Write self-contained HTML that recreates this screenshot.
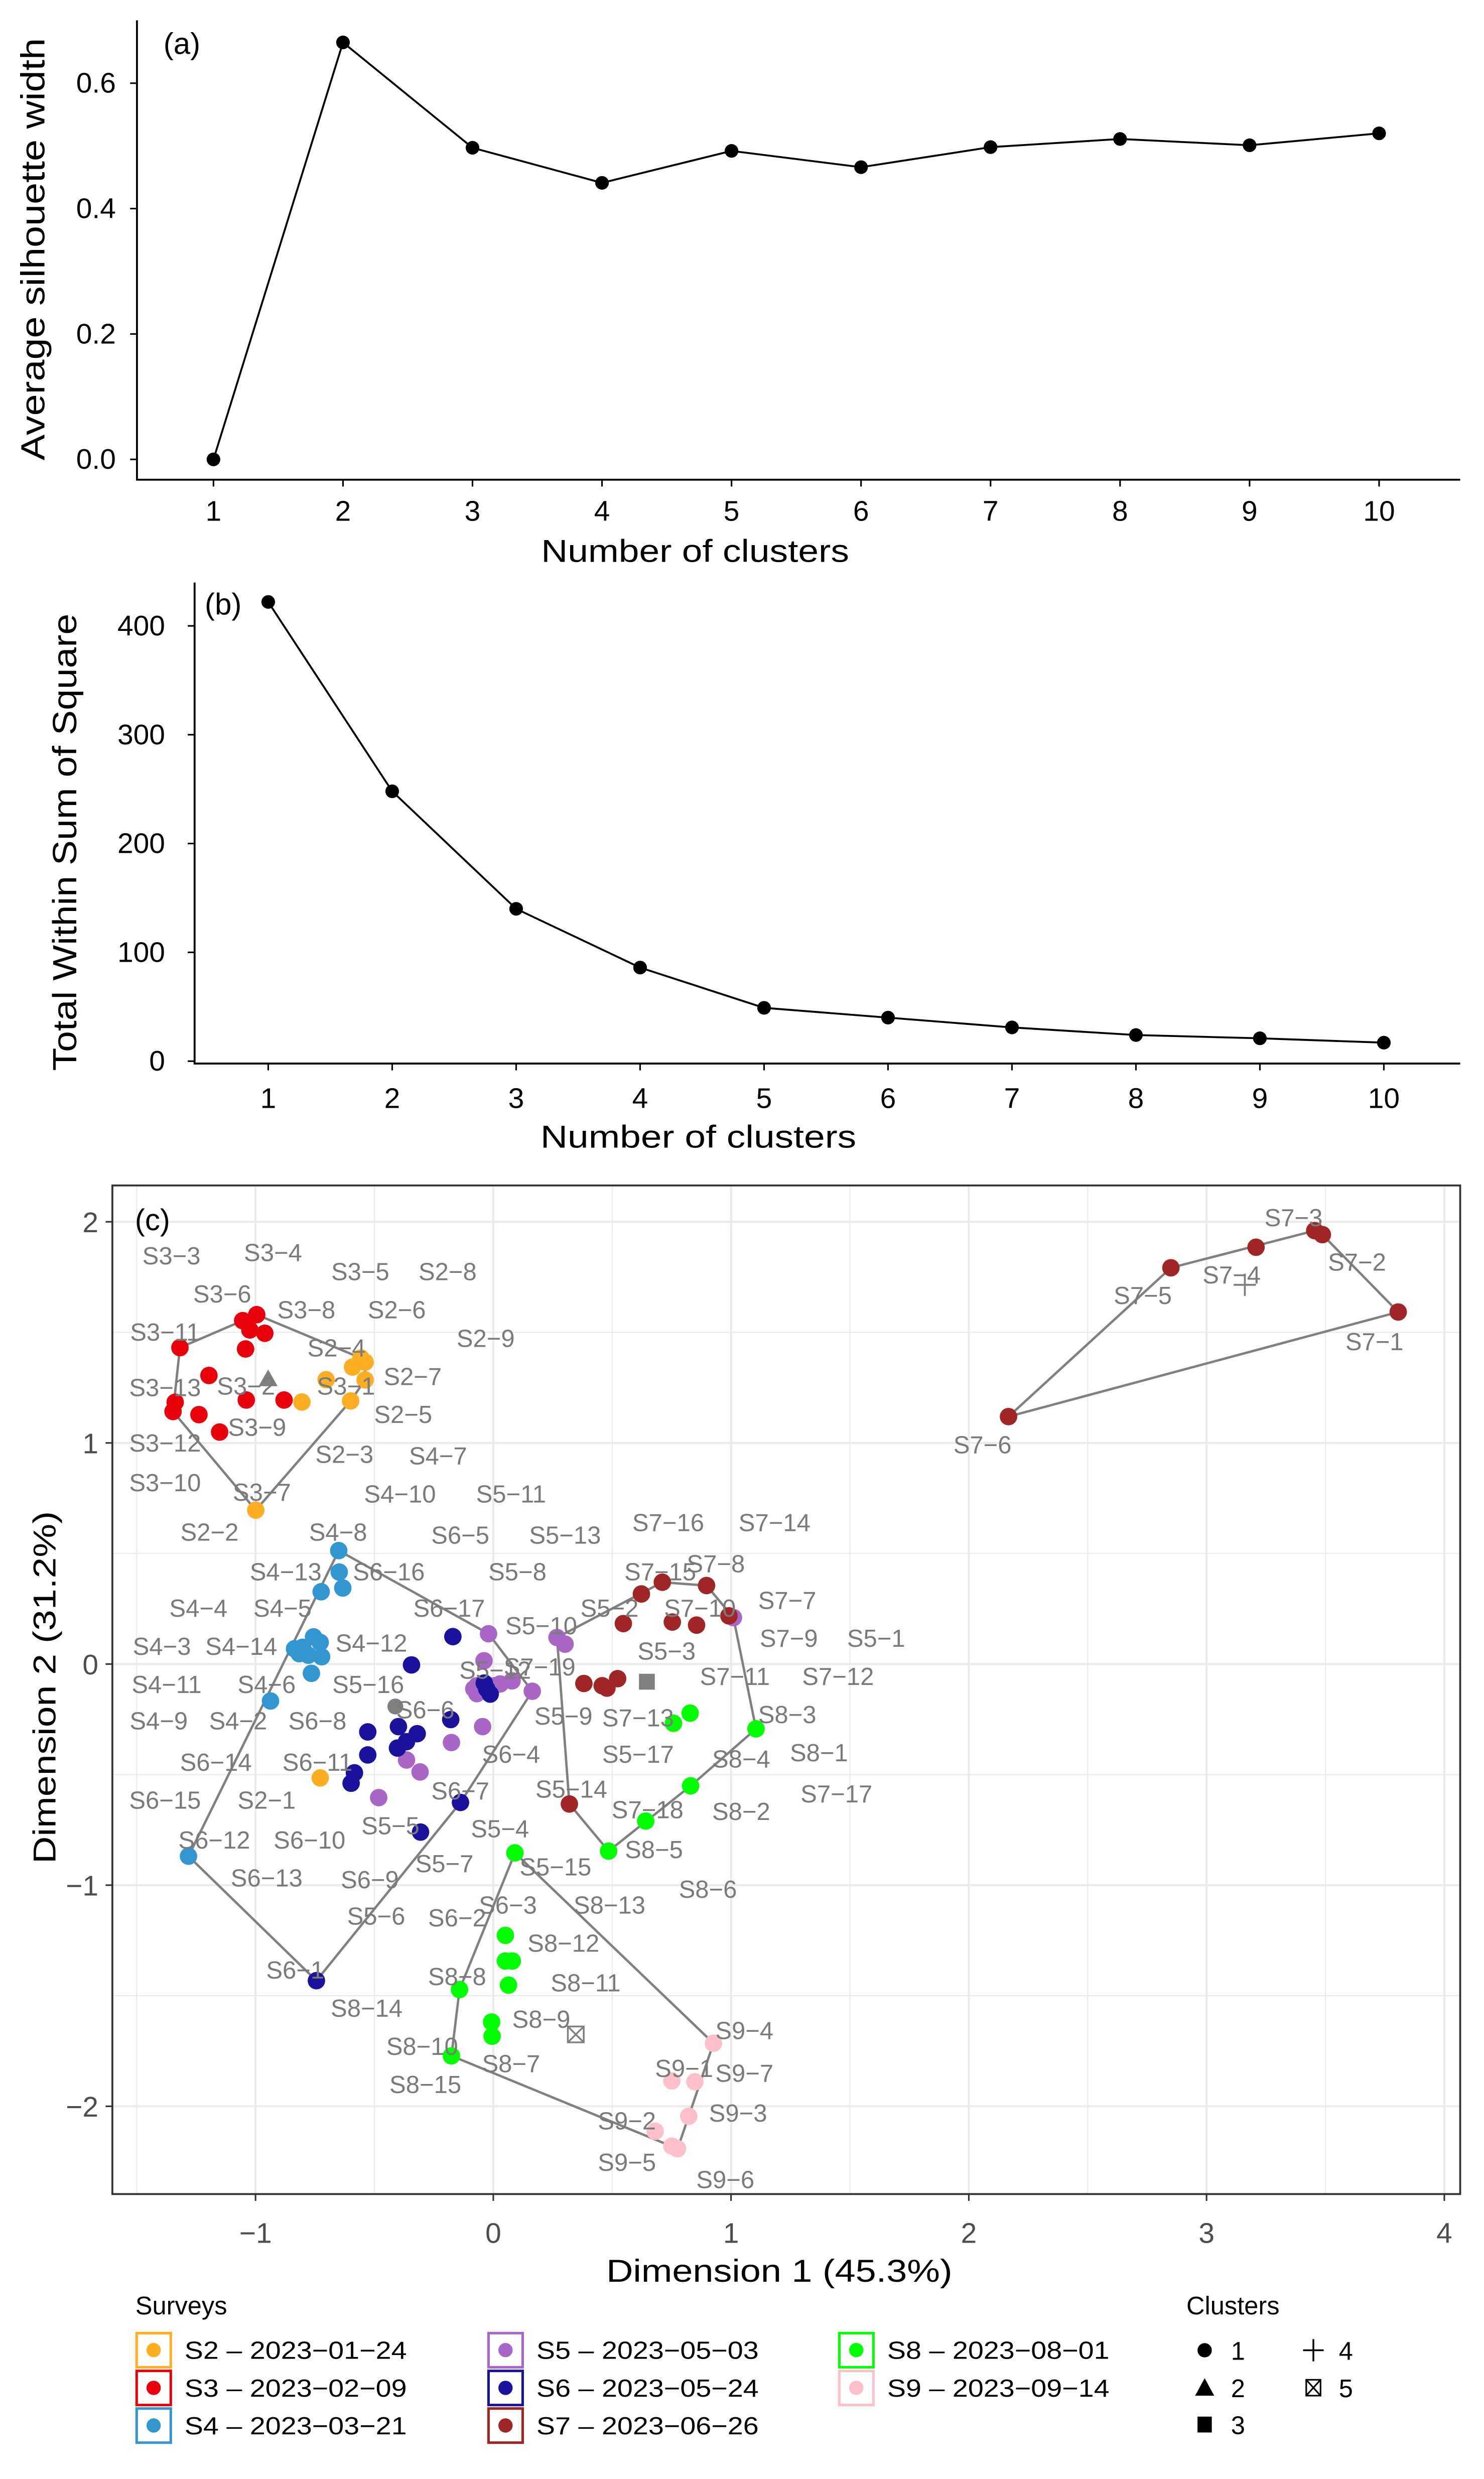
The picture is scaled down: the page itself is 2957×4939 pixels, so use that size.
<!DOCTYPE html>
<html><head><meta charset="utf-8">
<style>
html,body{margin:0;padding:0;background:#fff;}
svg{display:block;font-family:"Liberation Sans",sans-serif;}
</style></head>
<body>
<svg id="fig" xmlns="http://www.w3.org/2000/svg" width="2957" height="4939" viewBox="0 0 935 1561.7">
<rect x="0" y="0" width="935" height="1561.7" fill="#fff"/>
<g id="pa"></g>
<g id="pb"></g>
<g id="pc"></g>
<g id="lg"></g>
</svg>
<script>
// ---------- Panel (a) data ----------
const silK = [1,2,3,4,5,6,7,8,9,10];
const silVals = [0, 0.665, 0.497, 0.441, 0.492, 0.466, 0.498, 0.511, 0.501, 0.520];
const silTicks = [0, 0.2, 0.4, 0.6];
const silTickLabels = ["0.0","0.2","0.4","0.6"];
// ---------- Panel (b) data ----------
const wssK = [1,2,3,4,5,6,7,8,9,10];
const wssVals = [422, 248, 140, 86, 49, 40, 31, 24, 21, 17];
const wssTicks = [0,100,200,300,400];
// ---------- Panel (c) data ----------
const s2x = [-0.728,-0.999,-0.805,-0.703,-0.600,-0.592,-0.539,-0.557,-0.539];
const s2y = [-0.515,0.696,1.185,1.286,1.190,1.343,1.285,1.384,1.365];
const s2c = [1,2,2,2,2,2,2,2,2];
const s3x = [-0.995,-1.054,-1.024,-0.961,-1.318,-1.042,-1.196,-1.039,-0.880,-1.338,-1.347,-1.238,-1.151];
const s3y = [1.58,1.553,1.511,1.496,1.431,1.425,1.305,1.194,1.194,1.184,1.142,1.128,1.049];
const s3c = [2,2,2,2,2,2,2,2,2,2,2,2,2];
const s4x = [-0.650,-0.648,-0.633,-0.724,-0.756,-0.728,-0.836,-0.802,-0.778,-0.722,-0.765,-0.937,-1.282,-0.816];
const s4y = [0.513,0.416,0.344,0.327,0.123,0.098,0.069,0.076,0.040,0.033,-0.042,-0.167,-0.869,0.047];
const s4c = [1,1,1,1,1,1,1,1,1,1,1,1,1,1];
const s5x = [-0.020,-0.039,-0.069,-0.069,0.029,0.079,0.164,-0.045,-0.176,-0.365,-0.308,-0.482,0.268,0.302,1.010,0.005,-0.082];
const s5y = [0.137,0.015,-0.098,-0.134,-0.090,-0.076,-0.123,-0.283,-0.355,-0.434,-0.488,-0.604,0.120,0.090,0.210,-0.098,-0.112];
const s5c = [1,1,1,1,1,1,1,1,1,1,1,1,3,3,3,1,1];
const s6x = [-0.170,-0.344,-0.038,-0.013,-0.179,-0.399,-0.320,-0.365,-0.403,-0.528,-0.528,-0.584,-0.598,-0.306,-0.138,-0.744,-0.028];
const s6y = [0.124,-0.004,-0.086,-0.136,-0.251,-0.283,-0.315,-0.351,-0.380,-0.307,-0.411,-0.492,-0.539,-0.760,-0.626,-1.432,-0.112];
const s6c = [1,1,1,1,1,1,1,1,1,1,1,1,1,1,1,1,1];
const s7x = [3.806,3.487,3.455,3.208,2.850,2.167,0.711,0.623,0.897,0.991,0.547,0.753,0.855,0.381,0.458,0.478,0.523,0.320];
const s7y = [1.592,1.942,1.960,1.885,1.792,1.119,0.370,0.317,0.355,0.218,0.183,0.190,0.176,-0.088,-0.098,-0.109,-0.066,-0.633];
const s7c = [4,4,4,4,4,4,3,3,3,3,3,3,3,3,3,3,3,3];
const s8x = [0.828,0.758,1.105,0.830,0.641,0.485,0.091,0.051,0.051,0.080,0.064,-0.142,-0.007,-0.005,-0.176];
const s8y = [-0.222,-0.268,-0.293,-0.551,-0.710,-0.846,-0.854,-1.227,-1.343,-1.343,-1.452,-1.472,-1.619,-1.683,-1.772];
const s8c = [3,3,3,3,3,3,5,5,5,5,5,5,5,5,5];
const s9x = [0.926,0.751,0.848,0.822,0.681,0.751,0.775];
const s9y = [-1.715,-1.885,-1.889,-2.045,-2.113,-2.180,-2.192];
const s9c = [5,5,5,5,5,5,5];
const centX = [-0.412,-0.947,0.646,3.161,0.347];
const centY = [-0.192,1.289,-0.080,1.715,-1.675];
const cTicksX = [-1,0,1,2,3,4];
const cTicksY = [-2,-1,0,1,2];
const surveyNames = ["S2","S3","S4","S5","S6","S7","S8","S9"];
const surveyDates = ["2023−01−24","2023−02−09","2023−03−21","2023−05−03","2023−05−24","2023−06−26","2023−08−01","2023−09−14"];
const surveyColors = ["#fdae22","#e8000b","#3296d0","#a966c6","#1a129c","#a02525","#00ff00","#ffc0cb"];
// point labels: text, pixel x, pixel y (label anchor positions, not data)
const ptLabels = [
["S3−3",108,791],["S3−4",172,789],["S3−5",227,801],["S2−8",282,801],["S3−6",140,815],["S3−8",193,825],["S2−6",250,825],
["S3−11",104,839],["S2−9",306,843],["S2−4",212,849],["S2−7",260,867],["S3−13",104,874],["S3−2",155,873],["S3−1",218,873],
["S2−5",254,891],["S3−9",162,899],["S3−12",104,909],["S2−3",217,916],["S4−7",276,917],["S3−10",104,934],["S3−7",165,940],
["S4−10",252,941],["S5−11",322,941],["S2−2",132,965],["S4−8",213,965],["S6−5",290,967],["S5−13",356,967],["S7−16",421,959],
["S7−14",488,959],["S5−8",326,990],["S7−8",451,985],["S4−13",180,990],["S6−16",245,990],["S7−15",416,990],["S4−4",125,1013],
["S4−5",178,1013],["S6−17",283,1013],["S5−10",341,1024],["S5−2",384,1013],["S7−7",496,1008],["S7−10",441,1013],["S4−3",102,1037],
["S4−14",152,1037],["S4−12",234,1035],["S5−12",312,1052],["S7−19",340,1050],["S5−3",420,1040],["S7−9",497,1032],["S5−1",552,1032],
["S4−11",105,1061],["S4−6",168,1061],["S5−16",232,1061],["S7−11",463,1056],["S7−12",528,1056],["S4−9",100,1084],["S4−2",150,1084],
["S6−8",200,1084],["S6−6",268,1077],["S5−9",355,1081],["S7−13",402,1082],["S8−3",496,1080],["S6−14",136,1110],["S6−11",200,1110],
["S6−4",322,1105],["S5−17",402,1105],["S8−4",467,1108],["S8−1",516,1104],["S6−15",104,1134],["S2−1",168,1134],["S6−7",290,1128],
["S5−14",360,1127],["S7−17",527,1130],["S8−2",467,1141],["S6−12",135,1159],["S6−10",195,1159],["S5−5",246,1150],["S5−4",315,1152],
["S7−18",408,1140],["S8−5",412,1165],["S6−13",168,1183],["S6−9",233,1184],["S5−7",280,1174],["S5−15",350,1176],["S8−6",446,1190],
["S5−6",237,1207],["S6−2",288,1208],["S6−3",320,1200],["S8−13",384,1200],["S8−12",355,1224],["S6−1",186,1241],["S8−11",369,1249],
["S8−8",288,1245],["S8−14",231,1265],["S8−9",341,1272],["S9−4",469,1279],["S8−10",266,1289],["S9−1",431,1303],["S9−7",469,1306],
["S8−7",322,1300],["S8−15",268,1313],["S9−3",465,1331],["S9−2",395,1336],["S9−5",395,1362],["S9−6",457,1373],
["S7−3",815,767],["S7−2",855,795],["S7−4",776,803],["S7−5",720,816],["S7−1",866,845],["S7−6",619,910]
];

const NS = "http://www.w3.org/2000/svg";
function mk(parent, tag, attrs, text){
  const e = document.createElementNS(NS, tag);
  for (const k in attrs) e.setAttribute(k, attrs[k]);
  if (text !== undefined) e.textContent = text;
  parent.appendChild(e);
  return e;
}

// ================= Panel (a) =================
(function(){
  const g = document.getElementById('pa');
  const xA = k => 134.5 + (k-1)*81.6;
  const yA = v => 289.4 - v/0.2*79.0;
  let e;
  e = mk(g,'line',{x1:86.3,y1:12.8,x2:86.3,y2:302.2,stroke:'#000','stroke-width':1.2});
   
  e = mk(g,'line',{x1:85.7,y1:302.2,x2:920,y2:302.2,stroke:'#000','stroke-width':1.2});
   
  silTicks.forEach((t,i)=>{
    const y = yA(t);
    let l = mk(g,'line',{x1:82,y1:y,x2:86.3,y2:y,stroke:'#000','stroke-width':1});
     
    let tx = mk(g,'text',{x:73,y:y+6,'text-anchor':'end','font-size':18,fill:'#000'},silTickLabels[i]);
     
  });
  silK.forEach(k=>{
    const x = xA(k);
    let l = mk(g,'line',{x1:x,y1:302.2,x2:x,y2:306.5,stroke:'#000','stroke-width':1});
     
    let tx = mk(g,'text',{x:x,y:328,'text-anchor':'middle','font-size':18,fill:'#000'},String(k));
     
  });
  const pts = silK.map((k,i)=>xA(k)+','+yA(silVals[i])).join(' ');
  e = mk(g,'polyline',{points:pts,fill:'none',stroke:'#000','stroke-width':1.2});
   
  silK.forEach((k,i)=>{
    const c = mk(g,'circle',{cx:xA(k),cy:yA(silVals[i]),r:4.3,fill:'#000'});
     
  });
  e = mk(g,'text',{x:103,y:34,'font-size':19,fill:'#000'},'(a)');
   
  e = mk(g,'text',{x:438,y:354,'text-anchor':'middle','font-size':20,fill:'#000',textLength:194,lengthAdjust:'spacingAndGlyphs'},'Number of clusters');
   
  e = mk(g,'text',{x:0,y:0,'text-anchor':'middle','font-size':21,fill:'#000',transform:'translate(28,157) rotate(-90)',textLength:266,lengthAdjust:'spacingAndGlyphs'},'Average silhouette width');
   
})();

// ================= Panel (b) =================
(function(){
  const g = document.getElementById('pb');
  const xB = k => 169 + (k-1)*78.1;
  const yB = v => 668.5 - v*0.6855;
  let e;
  e = mk(g,'line',{x1:122.6,y1:367,x2:122.6,y2:670,stroke:'#000','stroke-width':1.2});
   
  e = mk(g,'line',{x1:122,y1:670,x2:920,y2:670,stroke:'#000','stroke-width':1.2});
   
  wssTicks.forEach(t=>{
    const y = yB(t);
    let l = mk(g,'line',{x1:118.3,y1:y,x2:122.6,y2:y,stroke:'#000','stroke-width':1});
     
    let tx = mk(g,'text',{x:104,y:y+6,'text-anchor':'end','font-size':18,fill:'#000'},String(t));
     
  });
  wssK.forEach(k=>{
    const x = xB(k);
    let l = mk(g,'line',{x1:x,y1:670,x2:x,y2:674.3,stroke:'#000','stroke-width':1});
     
    let tx = mk(g,'text',{x:x,y:698,'text-anchor':'middle','font-size':18,fill:'#000'},String(k));
     
  });
  const pts = wssK.map((k,i)=>xB(k)+','+yB(wssVals[i])).join(' ');
  e = mk(g,'polyline',{points:pts,fill:'none',stroke:'#000','stroke-width':1.2});
   
  wssK.forEach((k,i)=>{
    const c = mk(g,'circle',{cx:xB(k),cy:yB(wssVals[i]),r:4.3,fill:'#000'});
     
  });
  e = mk(g,'text',{x:129,y:387,'font-size':19,fill:'#000'},'(b)');
   
  e = mk(g,'text',{x:440,y:723,'text-anchor':'middle','font-size':20,fill:'#000',textLength:199,lengthAdjust:'spacingAndGlyphs'},'Number of clusters');
   
  e = mk(g,'text',{x:0,y:0,'text-anchor':'middle','font-size':21,fill:'#000',transform:'translate(48,530.6) rotate(-90)',textLength:288,lengthAdjust:'spacingAndGlyphs'},'Total Within Sum of Square');
   
})();

// ================= Panel (c) =================
(function(){
  const g = document.getElementById('pc');
  const xC = v => 310.8 + v*149.8;
  const yC = v => 1048.3 - v*139.3;
  const L=70.8, R=920, T=746.8, B=1382.2;
  let e;
  // grid
  for (let v=-1.5; v<=4.0; v+=0.5){
    const x = xC(v); if (x<L||x>R) continue;
    const major = Math.abs(v-Math.round(v))<1e-6;
    const l = mk(g,'line',{x1:x,y1:T,x2:x,y2:B,stroke:'#ebebeb','stroke-width':major?1.3:0.7});
     
  }
  for (let v=-2.5; v<=2.0; v+=0.5){
    const y = yC(v); if (y<T||y>B) continue;
    const major = Math.abs(v-Math.round(v))<1e-6;
    const l = mk(g,'line',{x1:L,y1:y,x2:R,y2:y,stroke:'#ebebeb','stroke-width':major?1.3:0.7});
     
  }
  // ticks
  cTicksX.forEach(t=>{
    const x=xC(t);
    let l=mk(g,'line',{x1:x,y1:B,x2:x,y2:B+4.3,stroke:'#333','stroke-width':1});
     
    let tx=mk(g,'text',{x:x,y:1413,'text-anchor':'middle','font-size':18,fill:'#4d4d4d'},String(t).replace('-','−'));
     
  });
  cTicksY.forEach(t=>{
    const y=yC(t);
    let l=mk(g,'line',{x1:L-4.3,y1:y,x2:L,y2:y,stroke:'#333','stroke-width':1});
     
    let tx=mk(g,'text',{x:62,y:y+6.5,'text-anchor':'end','font-size':18,fill:'#4d4d4d'},String(t).replace('-','−'));
     
  });
  // gather points
  const XS=[s2x,s3x,s4x,s5x,s6x,s7x,s8x,s9x], YS=[s2y,s3y,s4y,s5y,s6y,s7y,s8y,s9y], CS=[s2c,s3c,s4c,s5c,s6c,s7c,s8c,s9c];
  const byCluster = {1:[],2:[],3:[],4:[],5:[]};
  XS.forEach((xs,si)=>xs.forEach((x,i)=>byCluster[CS[si][i]].push([xC(x),yC(YS[si][i])])));
  function hull(p){
    p = p.slice().sort((a,b)=>a[0]-b[0]||a[1]-b[1]);
    const cr=(o,a,b)=>(a[0]-o[0])*(b[1]-o[1])-(a[1]-o[1])*(b[0]-o[0]);
    const lo=[],up=[];
    for(const q of p){while(lo.length>=2&&cr(lo[lo.length-2],lo[lo.length-1],q)<=0)lo.pop();lo.push(q);}
    for(let i=p.length-1;i>=0;i--){const q=p[i];while(up.length>=2&&cr(up[up.length-2],up[up.length-1],q)<=0)up.pop();up.push(q);}
    up.pop();lo.pop();return lo.concat(up);
  }
  for (const k in byCluster){
    const h = hull(byCluster[k]);
    const pg = mk(g,'polygon',{points:h.map(p=>p.join(',')).join(' '),fill:'none',stroke:'#808080','stroke-width':1.5,'stroke-linejoin':'round'});
     
  }
  // points
  XS.forEach((xs,si)=>xs.forEach((x,i)=>{
    const c = mk(g,'circle',{cx:xC(x),cy:yC(YS[si][i]),r:5.5,fill:surveyColors[si]});
     
  }));
  // centroids
  const gray='#7f7f7f';
  centX.forEach((cx,i)=>{
    const x=xC(cx), y=yC(centY[i]); let m;
    if(i===0){ m=mk(g,'circle',{cx:x,cy:y,r:5,fill:gray}); }
    else if(i===1){ m=mk(g,'polygon',{points:`${x},${y-6} ${x-6},${y+4.5} ${x+6},${y+4.5}`,fill:gray}); }
    else if(i===2){ m=mk(g,'rect',{x:x-5,y:y-5,width:10,height:10,fill:gray}); }
    else if(i===3){ m=mk(g,'path',{d:`M${x-7},${y}H${x+7}M${x},${y-7}V${y+7}`,stroke:gray,'stroke-width':1.2,fill:'none'}); }
    else { m=mk(g,'path',{d:`M${x-5},${y-5}h10v10h-10zM${x-5},${y-5}L${x+5},${y+5}M${x+5},${y-5}L${x-5},${y+5}`,stroke:gray,'stroke-width':1.1,fill:'none'}); }
     
  });
  // labels
  ptLabels.forEach(d=>{
    const t = mk(g,'text',{x:d[1],y:d[2]+5.5,'text-anchor':'middle','font-size':15.5,fill:'#7a7a7a'},d[0]);
     
  });
  // frame
  e = mk(g,'rect',{x:L,y:T,width:R-L,height:B-T,fill:'none',stroke:'#333','stroke-width':1.2});
   
  e = mk(g,'text',{x:85,y:775,'font-size':19,fill:'#000'},'(c)');
   
  e = mk(g,'text',{x:491,y:1437.5,'text-anchor':'middle','font-size':20,fill:'#000',textLength:218,lengthAdjust:'spacingAndGlyphs'},'Dimension 1 (45.3%)');
   
  e = mk(g,'text',{x:0,y:0,'text-anchor':'middle','font-size':20,fill:'#000',transform:'translate(35,1063) rotate(-90)',textLength:222,lengthAdjust:'spacingAndGlyphs'},'Dimension 2 (31.2%)');
   
})();

// ================= Legend =================
(function(){
  const g = document.getElementById('lg');
  let e;
  e = mk(g,'text',{x:85.3,y:1458,'font-size':16,fill:'#000'},'Surveys');
   
  e = mk(g,'text',{x:747.5,y:1458,'font-size':16,fill:'#000'},'Clusters');
   
  const colX=[85.3,307,528], rowY=[1469,1492.8,1516.5];
  surveyNames.forEach((n,i)=>{
    const col=Math.floor(i/3), row=i%3;
    const x=colX[col], y=rowY[row];
    const r = mk(g,'rect',{x:x+0.8,y:y+0.8,width:21.5,height:21.5,fill:'#fff',stroke:surveyColors[i],'stroke-width':1.6});
     
    const c = mk(g,'circle',{cx:x+11.5,cy:y+11.5,r:4.5,fill:surveyColors[i]});
     
    const t = mk(g,'text',{x:x+31,y:y+17,'font-size':15.5,fill:'#000',textLength:140,lengthAdjust:'spacingAndGlyphs'},n+' – '+surveyDates[i]);
     
  });
  const cy=[1480.6,1504.2,1527.4];
  let m;
  m=mk(g,'circle',{cx:759,cy:cy[0],r:4.5,fill:'#000'});  
  m=mk(g,'polygon',{points:`759,${cy[1]-6} 753,${cy[1]+5} 765,${cy[1]+5}`,fill:'#000'});  
  m=mk(g,'rect',{x:754.5,y:cy[2]-5,width:9,height:10,fill:'#000'});  
  m=mk(g,'path',{d:`M821,${cy[0]}H834M827.5,${cy[0]-7}V${cy[0]+7}`,stroke:'#000','stroke-width':1.1,fill:'none'});  
  m=mk(g,'path',{d:`M823,${cy[1]-5}h9v10h-9zM823,${cy[1]-5}L832,${cy[1]+5}M832,${cy[1]-5}L823,${cy[1]+5}`,stroke:'#000','stroke-width':1,fill:'none'});  
  const cl=[["1",780,cy[0]],["2",780,cy[1]],["3",780,cy[2]],["4",848,cy[0]],["5",848,cy[1]]];
  cl.forEach(d=>{
    const t=mk(g,'text',{x:d[1],y:d[2]+6,'text-anchor':'middle','font-size':16,fill:'#000'},d[0]);
     
  });
})();
</script>
</body></html>
